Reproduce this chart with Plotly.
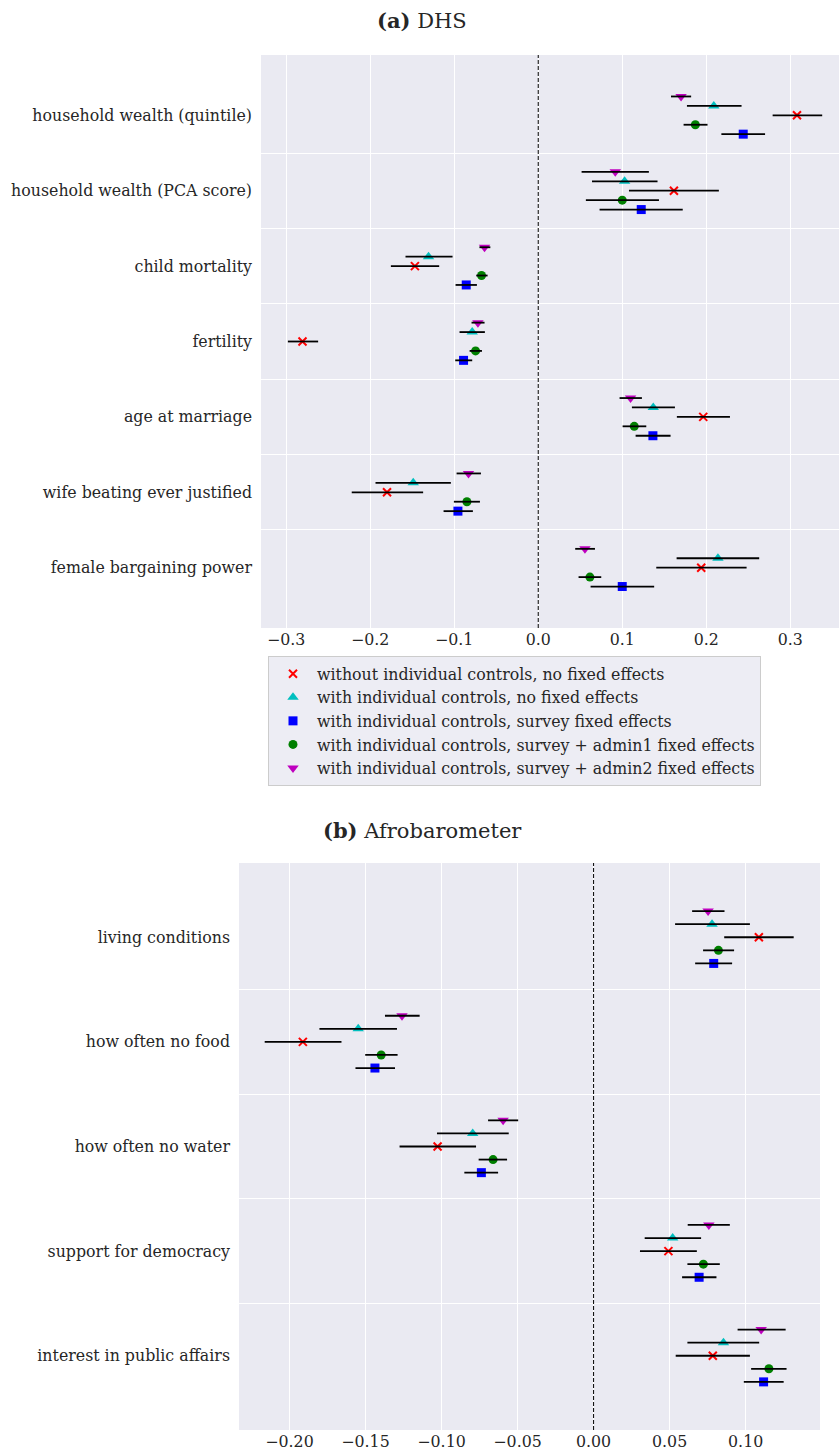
import plotly.graph_objects as go

# ---------------- data ----------------
dhs_categories = ["household wealth (quintile)", "household wealth (PCA score)", "child mortality",
                  "fertility", "age at marriage", "wife beating ever justified", "female bargaining power"]
afro_categories = ["living conditions", "how often no food", "how often no water",
                   "support for democracy", "interest in public affairs"]

series_names = ["without individual controls, no fixed effects",
                "with individual controls, no fixed effects",
                "with individual controls, survey fixed effects",
                "with individual controls, survey + admin1 fixed effects",
                "with individual controls, survey + admin2 fixed effects"]

# DHS estimates and confidence bounds
dhs_est_nocontrols = [0.308, 0.1615, -0.1468, -0.2806, 0.1964, -0.180, 0.194]
dhs_lo_nocontrols = [0.279, 0.108, -0.1754, -0.298, 0.165, -0.222, 0.1405]
dhs_hi_nocontrols = [0.338, 0.215, -0.1179, -0.262, 0.2282, -0.137, 0.248]

dhs_est_controls = [0.209, 0.1028, -0.1306, -0.0786, 0.1369, -0.1488, 0.2139]
dhs_lo_controls = [0.177, 0.064, -0.158, -0.0937, 0.1115, -0.1937, 0.1647]
dhs_hi_controls = [0.242, 0.142, -0.102, -0.0635, 0.1627, -0.104, 0.263]

dhs_est_survey = [0.244, 0.1226, -0.0857, -0.0889, 0.1365, -0.0956, 0.100]
dhs_lo_survey = [0.218, 0.073, -0.0984, -0.0988, 0.1159, -0.1127, 0.0623]
dhs_hi_survey = [0.270, 0.172, -0.073, -0.0786, 0.1575, -0.0778, 0.138]

dhs_est_admin1 = [0.187, 0.100, -0.0675, -0.0746, 0.1143, -0.0849, 0.0615]
dhs_lo_admin1 = [0.173, 0.0567, -0.0738, -0.0817, 0.1004, -0.1004, 0.048]
dhs_hi_admin1 = [0.2015, 0.1437, -0.0603, -0.067, 0.1286, -0.0694, 0.075]

dhs_est_admin2 = [0.170, 0.0917, -0.0639, -0.0718, 0.1099, -0.083, 0.0556]
dhs_lo_admin2 = [0.158, 0.0516, -0.070, -0.0794, 0.0968, -0.0972, 0.044]
dhs_hi_admin2 = [0.182, 0.1317, -0.057, -0.0639, 0.1234, -0.0682, 0.0675]

# Afrobarometer estimates and confidence bounds
afro_est_nocontrols = [0.1087, -0.1912, -0.1026, 0.0492, 0.0784]
afro_lo_nocontrols = [0.0859, -0.2163, -0.1276, 0.0305, 0.054]
afro_hi_nocontrols = [0.1316, -0.1658, -0.0773, 0.0679, 0.1028]

afro_est_controls = [0.0779, -0.1548, -0.0795, 0.052, 0.0854]
afro_lo_controls = [0.0536, -0.1803, -0.103, 0.0336, 0.0617]
afro_hi_controls = [0.1028, -0.1293, -0.0558, 0.0707, 0.1089]

afro_est_survey = [0.079, -0.1438, -0.0738, 0.0694, 0.1118]
afro_lo_survey = [0.0668, -0.1566, -0.085, 0.0582, 0.0988]
afro_hi_survey = [0.0911, -0.1306, -0.0628, 0.0808, 0.125]

afro_est_admin1 = [0.0821, -0.1397, -0.0661, 0.0722, 0.1153]
afro_lo_admin1 = [0.072, -0.1502, -0.0756, 0.0617, 0.1036]
afro_hi_admin1 = [0.0924, -0.1289, -0.0569, 0.083, 0.1269]

afro_est_admin2 = [0.0753, -0.126, -0.0595, 0.0758, 0.1102]
afro_lo_admin2 = [0.0648, -0.1372, -0.0694, 0.0619, 0.0947]
afro_hi_admin2 = [0.0861, -0.1144, -0.0496, 0.0896, 0.1263]

dhs_xticks = [-0.3, -0.2, -0.1, 0.0, 0.1, 0.2, 0.3]
afro_xticks = [-0.20, -0.15, -0.10, -0.05, 0.00, 0.05, 0.10]

# ---------------- styles ----------------
FONT = "DejaVu Serif"
TXT = "#262626"
BG = "#EAEAF2"
FS = 15.8
styles = [
    dict(symbol="x-thin", size=8, color="#FF0000", line=dict(width=2, color="#FF0000")),
    dict(symbol="triangle-up", size=10, color="#00BFBF", line=dict(width=0)),
    dict(symbol="square", size=9, color="#0000FF", line=dict(width=0)),
    dict(symbol="circle", size=9, color="#008000", line=dict(width=0)),
    dict(symbol="triangle-down", size=10, color="#BF00BF", line=dict(width=0)),
]
offsets = [0.0, -0.125, 0.25, 0.125, -0.25]

dhs_sets = [(dhs_est_nocontrols, dhs_lo_nocontrols, dhs_hi_nocontrols),
            (dhs_est_controls, dhs_lo_controls, dhs_hi_controls),
            (dhs_est_survey, dhs_lo_survey, dhs_hi_survey),
            (dhs_est_admin1, dhs_lo_admin1, dhs_hi_admin1),
            (dhs_est_admin2, dhs_lo_admin2, dhs_hi_admin2)]
afro_sets = [(afro_est_nocontrols, afro_lo_nocontrols, afro_hi_nocontrols),
             (afro_est_controls, afro_lo_controls, afro_hi_controls),
             (afro_est_survey, afro_lo_survey, afro_hi_survey),
             (afro_est_admin1, afro_lo_admin1, afro_hi_admin1),
             (afro_est_admin2, afro_lo_admin2, afro_hi_admin2)]

fig = go.Figure()


def add_panel(sets, ncat, xa, ya, legend):
    marker_traces = []
    err_traces = []
    for i, (est, lo, hi) in enumerate(sets):
        ypos = [k + offsets[i] for k in range(ncat)]
        marker_traces.append(go.Scatter(
            x=est, y=ypos, mode="markers", name=series_names[i],
            marker=styles[i], xaxis=xa, yaxis=ya, showlegend=legend,
            legendrank=i + 1))
        err_traces.append(go.Scatter(
            x=est, y=ypos, mode="markers", marker=dict(opacity=0, size=2),
            error_x=dict(type="data", symmetric=False,
                         array=[h - e for e, h in zip(est, hi)],
                         arrayminus=[e - l for e, l in zip(est, lo)],
                         color="black", thickness=1.8, width=0),
            xaxis=xa, yaxis=ya, showlegend=False, hoverinfo="skip"))
    for t in marker_traces + err_traces:
        fig.add_trace(t)


add_panel(dhs_sets, len(dhs_categories), "x", "y", True)
add_panel(afro_sets, len(afro_categories), "x2", "y2", False)

W, H = 839, 1454
axis_common = dict(showline=False, zeroline=False, ticks="", tickfont=dict(family=FONT, size=FS, color=TXT))

fig.update_layout(
    width=W, height=H,
    margin=dict(l=0, r=0, t=0, b=0),
    paper_bgcolor="white", plot_bgcolor=BG,
    font=dict(family=FONT, size=FS, color=TXT),
    xaxis=dict(domain=[261 / W, 1.0], anchor="y", range=[-0.330, 0.358],
               tickmode="array", tickvals=dhs_xticks, tickformat=".1f",
               showgrid=True, gridcolor="white", gridwidth=1.2, ticklabelstandoff=0, **axis_common),
    yaxis=dict(domain=[1 - 628 / H, 1 - 55 / H], anchor="x", range=[6.8, -0.8],
               tickmode="array", tickvals=list(range(len(dhs_categories))), ticktext=dhs_categories,
               showgrid=False, ticklabelstandoff=8,
               minor=dict(tickvals=[k + 0.5 for k in range(len(dhs_categories) - 1)],
                          showgrid=True, gridcolor="white", gridwidth=1.2, ticks=""),
               **axis_common),
    xaxis2=dict(domain=[239 / W, 820 / W], anchor="y2", range=[-0.2332, 0.1489],
                tickmode="array", tickvals=afro_xticks, tickformat=".2f",
                showgrid=True, gridcolor="white", gridwidth=1.2, ticklabelstandoff=0, **axis_common),
    yaxis2=dict(domain=[1 - 1430 / H, 1 - 863 / H], anchor="x2", range=[4.71, -0.71],
                tickmode="array", tickvals=list(range(len(afro_categories))), ticktext=afro_categories,
                showgrid=False, ticklabelstandoff=8,
                minor=dict(tickvals=[k + 0.5 for k in range(len(afro_categories) - 1)],
                           showgrid=True, gridcolor="white", gridwidth=1.2, ticks=""),
                **axis_common),
    legend=dict(x=268 / W, y=1 - 656 / H, xanchor="left", yanchor="top",
                bgcolor="rgba(234,234,242,0.85)", bordercolor="#CCCCCC", borderwidth=1,
                traceorder="normal", itemwidth=38),
    showlegend=True,
    annotations=[
        dict(text="<b>(a)</b> DHS", x=0.503, y=1 - 20 / H, xref="paper", yref="paper",
             showarrow=False, font=dict(family=FONT, size=21, color=TXT), xanchor="center", yanchor="middle"),
        dict(text="<b>(b)</b> Afrobarometer", x=0.504, y=1 - 830 / H, xref="paper", yref="paper",
             showarrow=False, font=dict(family=FONT, size=21, color=TXT), xanchor="center", yanchor="middle"),
    ],
)
fig.update_layout(legend_font_family=FONT, legend_font_size=FS, legend_font_color=TXT)

fig.add_vline(x=0, line=dict(color="black", width=1, dash="4px,2px"), xref="x", yref="y")
fig.add_shape(type="line", x0=0, x1=0, y0=0, y1=1, xref="x2", yref="y2 domain",
              line=dict(color="black", width=1, dash="4px,2px"))

fig.write_html("out.html", config={"displayModeBar": False},
               post_script="document.body.style.margin='0';document.body.style.padding='0';")
